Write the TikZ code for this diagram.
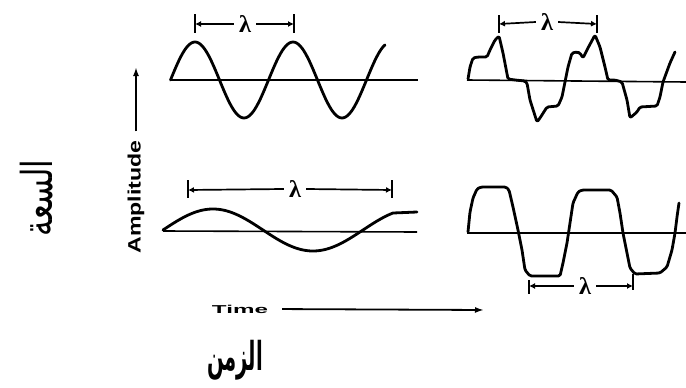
\documentclass[tikz,border=0pt]{standalone}
\usepackage{fontspec}
\usepackage{graphicx}
\setmainfont{Liberation Serif}
\newfontfamily\labfont{Liberation Sans}
\newfontfamily\arabicfont[Script=Arabic]{DejaVu Sans}
\TeXXeTstate=1
\usetikzlibrary{arrows.meta}
\newcommand{\lamsym}{\resizebox*{12pt}{17pt}{\bfseries λ}}
\tikzset{
  wave/.style={line width=2.8pt, line join=round, line cap=round},
  axisline/.style={line width=1.6pt},
  dimline/.style={line width=1.7pt, -{Latex[length=6pt,width=6pt]}},
  tickline/.style={line width=1.8pt},
  lam/.style={inner sep=5pt},
  bigarrow/.style={line width=1.8pt, -{Latex[length=9pt,width=6pt]}}
}
\begin{document}
\begin{tikzpicture}[x=1pt,y=-1pt]
\useasboundingbox (0,0) rectangle (686,388);

% ---------- top-left: pure sine ----------
\draw[axisline] (170,80) -- (418,80);
\draw[wave] plot[domain=170.5:385, samples=120] (\x,{80-38*sin(3.6735*(\x-170.5))});
\node[lam] (lamA) at (245,24) {\lamsym};
\coordinate (aL) at (195,24); \coordinate (aR) at (294,24);
\draw[tickline] (195,14) -- (195,33);
\draw[tickline] (294,14) -- (294,33);
\draw[dimline] (lamA.west) -- (aL);
\draw[dimline] (lamA.east) -- (aR);

% ---------- top-right: distorted wave ----------
\draw[axisline] (467,80) -- (686,82);
\draw[wave, rounded corners=1.5pt] (468,79) -- (470,67) -- (473,58) -- (478,57) -- (487,57)
  -- (490,50) -- (495,40) -- (499,36) -- (503,53) -- (508,79) -- (515,80) -- (525,81)
  -- (527,83) -- (530,100) -- (537,122) -- (540,118) -- (547,107) -- (558,106)
  -- (562,97) -- (565,82) -- (568,67) -- (572,53) -- (577,52) -- (580,53) -- (583,58)
  -- (588,48) -- (595,35) -- (600,47) -- (605,67) -- (608,80) -- (615,80) -- (622,82)
  -- (627,100) -- (630,118) -- (637,112) -- (640,107) -- (657,106) -- (660,97)
  -- (663,82) -- (670,63) -- (675,52);
\node[lam] (lamB) at (547,22) {\lamsym};
\coordinate (bL) at (499,24); \coordinate (bR) at (597,24);
\draw[tickline] (499,15) -- (499,33);
\draw[tickline] (597,15) -- (597,33);
\draw[dimline] (lamB.west) -- (bL);
\draw[dimline] (lamB.east) -- (bR);

% ---------- bottom-left: long sine ----------
\draw[axisline] (163,231) -- (417,232);
\draw[wave] plot[domain=163:393, samples=120] (\x,{230-21*sin(1.8*(\x-163))}) -- (417,212);
\node[lam] (lamC) at (295,189) {\lamsym};
\coordinate (cL) at (188,190); \coordinate (cR) at (392,190);
\draw[tickline] (188,180) -- (188,198);
\draw[tickline] (392,180) -- (392,198);
\draw[dimline] (lamC.west) -- (cL);
\draw[dimline] (lamC.east) -- (cR);

% ---------- bottom-right: square-ish wave ----------
\draw[axisline] (467,233) -- (686,233);
\draw[wave, rounded corners=1.5pt] (468,232) -- (470,212) -- (473,198) -- (477,189) -- (481,187)
  -- (506,187) -- (509,190) -- (513,207) -- (518,230) -- (522,250) -- (525,270) -- (530,276)
  -- (560,276) -- (563,263) -- (567,243) -- (570,223) -- (573,203) -- (578,192) -- (582,190)
  -- (611,190) -- (617,197) -- (620,213) -- (623,233) -- (627,253) -- (630,268) -- (635,274)
  -- (660,273) -- (667,267) -- (672,250) -- (675,233) -- (677,217) -- (679,203);
\node[lam] (lamD) at (585,286) {\lamsym};
\coordinate (dL) at (529,286); \coordinate (dR) at (633,286);
\draw[tickline] (529,280) -- (529,294);
\draw[tickline] (633,274) -- (633,290);
\draw[dimline] (lamD.west) -- (dL);
\draw[dimline] (lamD.east) -- (dR);

% ---------- axis labels ----------
\node[rotate=90, inner sep=4pt] (amp) at (136,197)
  {\resizebox{113pt}{13pt}{\labfont\bfseries Amplitude}};
\coordinate (ampTip) at (136,67);
\draw[bigarrow, shorten <=5pt] (amp.east) -- (ampTip);

\node[inner sep=3pt] (time) at (240,309)
  {\resizebox{56pt}{8.3pt}{\labfont\bfseries Time}};
\coordinate (timeTip) at (484,310);
\draw[bigarrow, shorten <=11pt] (time.east) -- (timeTip);

\node[inner sep=0pt] (zaman) at (235,360)
  {\resizebox*{56pt}{40pt}{\arabicfont\bfseries\beginR الزمن\endR}};
\node[rotate=90, inner sep=0pt] (saa) at (37,198)
  {\resizebox*{77pt}{33pt}{\arabicfont\beginR السعة\endR}};
\end{tikzpicture}
\end{document}
